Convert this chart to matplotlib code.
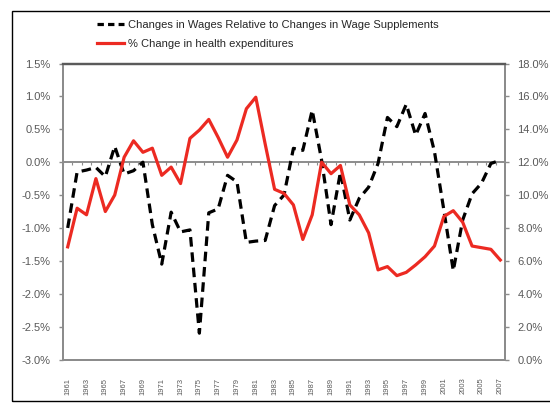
import matplotlib
matplotlib.use("Agg")
import matplotlib.pyplot as plt
from matplotlib.lines import Line2D
from matplotlib.patches import Rectangle
from matplotlib.ticker import FuncFormatter
import numpy as np

plt.rcParams['font.family'] = ['Liberation Sans', 'DejaVu Sans']

years = list(range(1961, 2008))

wage_ratio = [-1.0, -0.15, -0.12, -0.08, -0.22, 0.24, -0.18, -0.13, 0.0, -0.95,
              -1.55, -0.76, -1.06, -1.03, -2.6, -0.77, -0.71, -0.2, -0.3, -1.22,
              -1.2, -1.19, -0.66, -0.5, 0.21, 0.18, 0.79, 0.03, -0.95, -0.15,
              -0.88, -0.55, -0.38, -0.02, 0.68, 0.54, 0.88, 0.41, 0.74, 0.16,
              -0.73, -1.65, -0.88, -0.48, -0.32, -0.02, 0.03]

health_exp = [6.85, 9.2, 8.8, 11.0, 9.0, 10.0, 12.3, 13.3, 12.6, 12.85,
              11.2, 11.7, 10.7, 13.45, 13.95, 14.6, 13.5, 12.3, 13.35, 15.25,
              15.95, 13.1, 10.35, 10.1, 9.4, 7.3, 8.8, 12.0, 11.3, 11.8,
              9.4, 8.8, 7.7, 5.45, 5.65, 5.1, 5.3, 5.75, 6.25, 6.9,
              8.7, 9.05, 8.35, 6.9, 6.8, 6.7, 6.05]

left_ticks = [-3.0, -2.5, -2.0, -1.5, -1.0, -0.5, 0.0, 0.5, 1.0, 1.5]
right_ticks = [0, 2, 4, 6, 8, 10, 12, 14, 16, 18]

label_black = "Changes in Wages Relative to Changes in Wage Supplements"
label_red = "% Change in health expenditures"

W, H = 550, 403
fig = plt.figure(figsize=(W / 100, H / 100), dpi=100)
fig.patch.set_facecolor('white')

# outer border
fig.patches.append(Rectangle((12 / W, 2 / H), 1.0, (401 - 11) / H, transform=fig.transFigure,
                             fill=False, edgecolor='black', linewidth=1.0, zorder=0))

left, right, top, bottom = 63, 505, 63.5, 359.5
ax = fig.add_axes([left / W, (H - bottom) / H, (right - left) / W, (bottom - top) / H])
ax2 = ax.twinx()

x = np.arange(len(years))
gray = '#8c8c8c'
tick_gray = '#595959'

# zero line with tick marks at category boundaries
ax.axhline(0, color=gray, linewidth=1.4, zorder=1)
bounds = np.arange(len(years) + 1) - 0.5
ax.vlines(bounds, -0.045, 0, color=gray, linewidth=0.8, zorder=1)

ax.plot(x, wage_ratio, color='black', linewidth=2.3, dashes=(3.0, 1.8), zorder=3)
ax2.plot(x, health_exp, color='#ec2a22', linewidth=2.3, zorder=3)

ax.set_xlim(-0.5, len(years) - 0.5)
ax.set_ylim(-3.0, 1.5)
ax2.set_ylim(0, 18)

ax.set_yticks(left_ticks)
ax.yaxis.set_major_formatter(FuncFormatter(lambda v, p: f"{v:.1f}%"))
ax2.set_yticks(right_ticks)
ax2.yaxis.set_major_formatter(FuncFormatter(lambda v, p: f"{v:.1f}%"))

ax.set_xticks(x[::2])
ax.set_xticklabels([str(y) for y in years[::2]], rotation=90, fontsize=5.5, color=tick_gray)
ax.tick_params(axis='x', length=0, pad=13)
ax.tick_params(axis='y', length=3, width=1, color=gray, labelsize=8, labelcolor=tick_gray, pad=6)
ax2.tick_params(axis='y', length=3, width=1, color=gray, labelsize=8, labelcolor=tick_gray, pad=6)

for a in (ax, ax2):
    for s in ('left', 'right', 'bottom'):
        a.spines[s].set_color(gray)
        a.spines[s].set_linewidth(1.4)
    a.spines['top'].set_color('#5a5a5a')
    a.spines['top'].set_linewidth(1.6)

handles = [Line2D([], [], color='black', linewidth=2.3, dashes=(2.0, 1.3)),
           Line2D([], [], color='#ec2a22', linewidth=2.3)]
fig.legend(handles, [label_black, label_red], loc='upper left',
           bbox_to_anchor=(87 / W, 1 - 9.5 / H), frameon=False, fontsize=8,
           handlelength=2.4, handletextpad=0.35, labelspacing=0.85,
           labelcolor='#262626')

fig.savefig('out.png', dpi=100, facecolor='white')
